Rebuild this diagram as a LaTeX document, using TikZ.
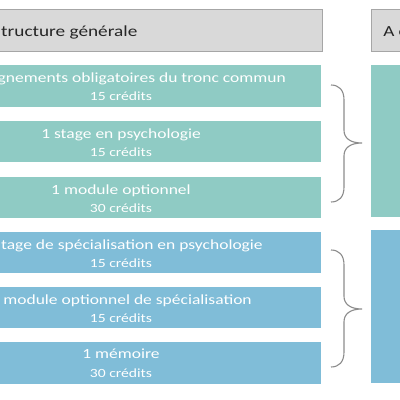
\documentclass[tikz,border=0pt]{standalone}
\usepackage{fontspec}
\setmainfont{Carlito}
\definecolor{boxteal}{HTML}{8FCBC4}
\definecolor{boxblue}{HTML}{80BDD8}
\definecolor{headfill}{HTML}{D9D9D9}
\definecolor{headline}{HTML}{A6A6A6}
\definecolor{headtext}{HTML}{262626}
\definecolor{bracecol}{HTML}{8C8C8C}
\tikzset{
  rowbox/.style={rectangle, inner sep=0pt, anchor=north west, minimum width=330pt, minimum height=41.5pt, draw=none},
  colbox/.style={rectangle, inner sep=0pt, anchor=north west, minimum width=40pt, draw=none},
  headbox/.style={rectangle, inner sep=0pt, anchor=north west, minimum height=42pt, fill=headfill, draw=headline, line width=1pt},
  maintext/.style={inner sep=0pt, text=white, font=\fontsize{14}{16}\selectfont, xscale=1.25, transform shape},
  credtext/.style={inner sep=0pt, text=white, font=\fontsize{12.5}{14}\selectfont, xscale=1.25, transform shape},
  headtxt/.style={inner sep=0pt, text=headtext, font=\fontsize{15.4}{18}\selectfont, xscale=1.25, transform shape, anchor=base west},
  bracepath/.style={draw=bracecol, line width=1.1pt}
}
\begin{document}
\begin{tikzpicture}[x=1pt,y=-1pt]
\useasboundingbox (0,0) rectangle (400,400);
\clip (0,0) rectangle (400,400);
\fill[white] (0,0) rectangle (400,400);
% headers
\node[headbox, minimum width=332pt] (hl) at (-10,9) {};
\node[headbox, minimum width=40pt] (hr) at (371,8.5) {};
\node[headtxt] (hlt) at (1,36) {tructure générale};
\node[headtxt] (hrt) at (383,36) {A c};
% rows
\node[rowbox, fill=boxteal] (r1) at (-9,65) {};
\node[rowbox, fill=boxteal] (r2) at (-9,120.5) {};
\node[rowbox, fill=boxteal] (r3) at (-9,176.5) {};
\node[rowbox, fill=boxblue] (r4) at (-9,231.5) {};
\node[rowbox, fill=boxblue] (r5) at (-9,286.5) {};
\node[rowbox, fill=boxblue] (r6) at (-9,342) {};
% right columns
\node[colbox, fill=boxteal, minimum height=152pt] (c1) at (371,65) {};
\node[colbox, fill=boxblue, minimum height=153pt] (c2) at (371,230) {};
% texts
\node[maintext, anchor=base east] (m1) at (286,82) {gnements obligatoires du tronc commun};
\node[credtext, anchor=base] (k1) at (121,100.5) {15 crédits};
\node[maintext, anchor=base] (m2) at (121,138) {1 stage en psychologie};
\node[credtext, anchor=base] (k2) at (121,156.5) {15 crédits};
\node[maintext, anchor=base] (m3) at (121,194) {1 module optionnel};
\node[credtext, anchor=base] (k3) at (121,212.5) {30 crédits};
\node[maintext, anchor=base east] (m4) at (263,249) {tage de spécialisation en psychologie};
\node[credtext, anchor=base] (k4) at (121,267.5) {15 crédits};
\node[maintext, anchor=base east] (m5) at (252,304) {module optionnel de spécialisation};
\node[credtext, anchor=base] (k5) at (121,322.5) {15 crédits};
\node[maintext, anchor=base] (m6) at (121,358.5) {1 mémoire};
\node[credtext, anchor=base] (k6) at (121,377) {30 crédits};
% braces
\coordinate (b1t) at (331,85);
\coordinate (b1m) at (362,143);
\coordinate (b1b) at (331,202);
\coordinate (b2t) at (331,250);
\coordinate (b2m) at (362,309);
\coordinate (b2b) at (331,367);
\draw[bracepath] (b1t) .. controls (339,85) and (344,90) .. (344,100) -- (344,130)
  .. controls (344,138) and (350,143) .. (b1m)
  .. controls (350,143) and (344,148) .. (344,156) -- (344,187)
  .. controls (344,197) and (339,202) .. (b1b);
\draw[bracepath] (b2t) .. controls (339,250) and (344,255) .. (344,265) -- (344,296)
  .. controls (344,304) and (350,309) .. (b2m)
  .. controls (350,309) and (344,314) .. (344,322) -- (344,352)
  .. controls (344,362) and (339,367) .. (b2b);
\end{tikzpicture}
\end{document}
